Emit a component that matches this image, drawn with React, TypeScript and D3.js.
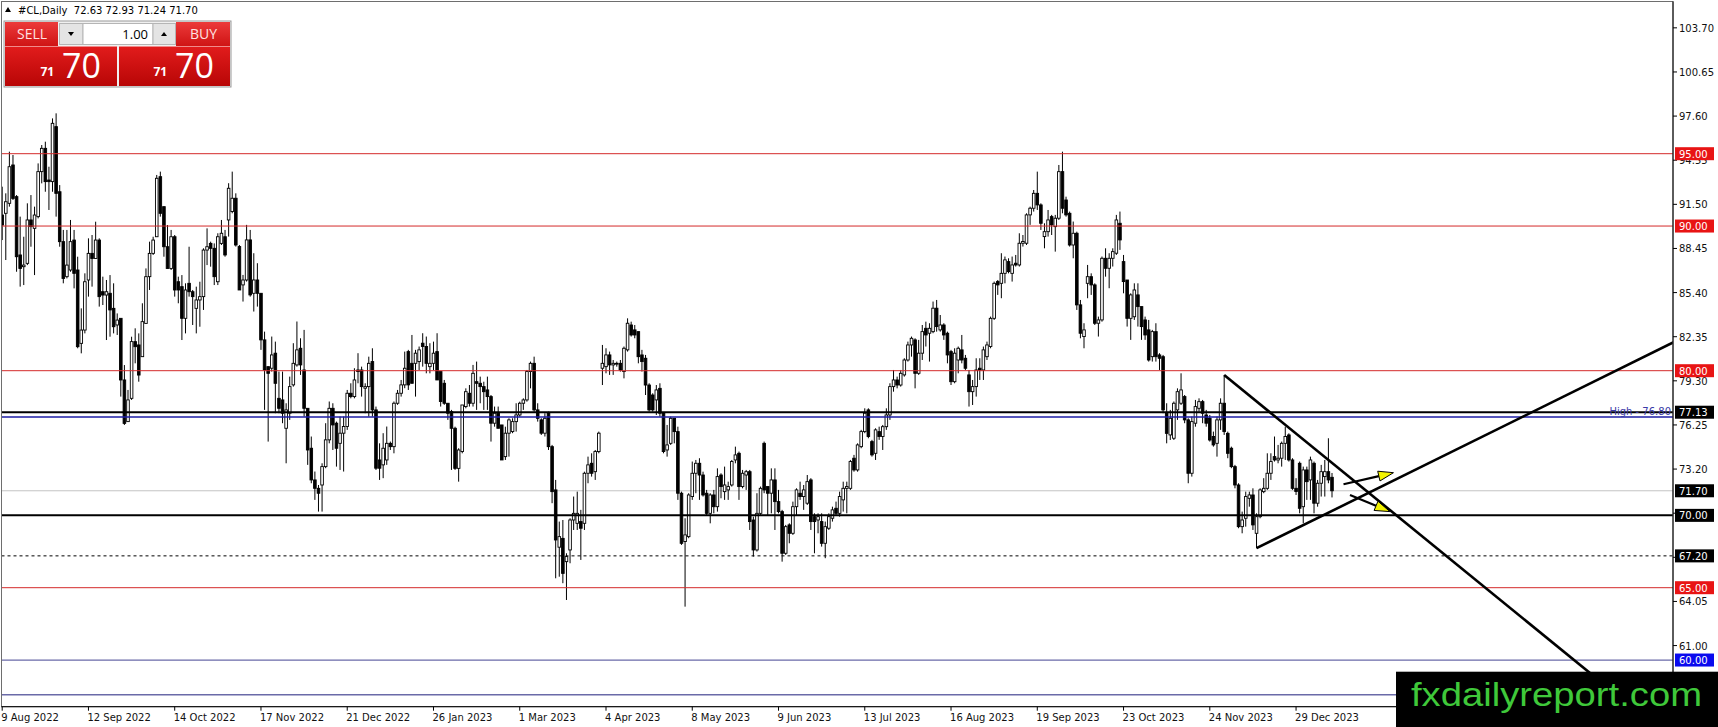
import React, { useEffect } from 'react';
import * as d3 from 'd3';

const W = 1718;
const H = 727;

// daily bars as [open, high, low, close]
const barsAugOct2022: number[][] = [
  [90.76, 92.72, 89.03, 90.07], [90.88, 92.26, 87.65, 91.68], [91.57, 95.14, 91.34, 94.10], [94.22, 94.91, 91.80, 91.91],
  [92.03, 92.14, 86.84, 87.88], [88.00, 90.65, 85.81, 87.07], [87.19, 89.26, 85.92, 87.30], [87.42, 91.57, 87.30, 90.42],
  [90.42, 92.14, 88.57, 89.96], [89.84, 91.34, 86.61, 90.76], [90.65, 94.33, 90.53, 93.76], [93.76, 95.60, 92.95, 95.37],
  [95.37, 95.83, 92.37, 93.07], [93.18, 94.10, 91.11, 93.07], [93.07, 97.44, 92.37, 97.10], [96.87, 97.79, 90.65, 92.26],
  [92.37, 92.83, 88.57, 88.92], [88.92, 89.73, 86.04, 86.38], [86.50, 89.73, 86.38, 87.30], [86.96, 90.42, 86.84, 88.92],
  [89.03, 89.73, 85.69, 86.73], [86.96, 87.88, 81.55, 81.66], [81.89, 84.31, 81.20, 82.81], [82.81, 86.73, 82.58, 86.15],
  [86.27, 89.15, 85.12, 88.11], [88.11, 89.38, 85.81, 87.76], [87.76, 90.30, 87.76, 89.03], [89.03, 89.15, 84.43, 85.12],
  [85.46, 86.50, 84.54, 85.23], [85.23, 86.27, 82.12, 85.46], [85.35, 86.61, 82.35, 84.20], [84.31, 86.04, 82.58, 83.04],
  [83.16, 83.96, 82.47, 83.50], [83.62, 83.62, 78.21, 79.36], [79.36, 80.39, 76.25, 76.36], [76.48, 78.67, 76.48, 77.98],
  [78.09, 82.35, 77.98, 82.01], [82.01, 82.93, 80.51, 81.66], [81.78, 82.58, 79.24, 79.70], [80.97, 84.66, 80.97, 83.39],
  [83.27, 87.07, 83.27, 86.50], [86.50, 88.92, 85.58, 88.11], [88.11, 89.26, 88.00, 89.03], [89.26, 93.53, 89.26, 93.30],
  [93.41, 93.76, 90.65, 90.88], [91.34, 91.34, 87.88, 88.57], [88.57, 90.07, 87.07, 87.07], [87.07, 89.73, 86.96, 89.26],
  [89.26, 89.38, 85.12, 85.58], [86.15, 86.50, 84.66, 85.58], [85.81, 86.61, 82.12, 83.62], [83.62, 86.04, 82.58, 85.58],
  [86.04, 88.57, 85.12, 85.46], [85.46, 85.58, 83.16, 85.12], [84.31, 85.81, 82.58, 84.89], [84.89, 86.15, 83.04, 85.12],
  [85.12, 88.46, 84.20, 88.34], [88.34, 89.84, 87.30, 88.57], [88.80, 88.92, 87.19, 88.46], [88.46, 88.80, 85.92, 86.50],
  [86.15, 89.50, 85.92, 89.26], [88.80, 90.42, 88.69, 89.50], [89.26, 89.73, 87.88, 88.00],
];

const barsNov2022Jan2023: number[][] = [
  [90.42, 92.96, 89.27, 92.61], [91.00, 93.76, 90.88, 91.92], [91.92, 92.26, 88.58, 88.69], [88.58, 88.69, 85.58, 85.58],
  [85.93, 86.62, 84.78, 86.27], [86.27, 90.08, 86.16, 89.04], [89.04, 89.73, 85.12, 85.24], [85.35, 88.12, 84.09, 86.27],
  [86.27, 87.43, 84.43, 85.35], [85.35, 85.35, 81.44, 82.13], [82.13, 82.70, 77.29, 80.05], [80.28, 80.28, 75.10, 79.82],
  [80.17, 82.36, 79.94, 81.09], [81.21, 82.01, 77.06, 79.13], [78.09, 79.94, 77.06, 77.40], [77.98, 79.94, 76.37, 77.06],
  [76.02, 77.75, 73.60, 77.29], [77.06, 79.59, 76.60, 78.90], [79.02, 81.90, 78.90, 80.51], [80.40, 83.40, 80.28, 81.44],
  [81.55, 82.24, 79.71, 80.40], [80.05, 82.82, 76.83, 77.40], [77.40, 77.40, 73.49, 74.52], [74.64, 75.45, 72.22, 72.45],
  [72.45, 73.03, 71.07, 71.87], [71.87, 72.10, 70.26, 71.53], [72.10, 73.60, 70.26, 73.37], [73.37, 76.37, 73.26, 75.22],
  [75.22, 77.87, 74.98, 77.40], [77.40, 77.75, 74.52, 76.25], [76.37, 76.48, 73.37, 74.64], [74.98, 76.83, 73.14, 75.68],
  [75.68, 76.83, 73.03, 76.14], [76.14, 78.67, 75.91, 78.44], [78.44, 79.13, 78.09, 78.21], [78.21, 80.17, 78.09, 79.36],
  [80.05, 81.21, 79.13, 79.94], [80.05, 80.28, 78.21, 78.90], [78.79, 79.13, 77.06, 78.90], [78.90, 80.97, 76.83, 80.51],
  [80.63, 81.55, 76.83, 77.29], [77.29, 77.52, 73.14, 73.26], [73.83, 74.98, 72.45, 73.26], [73.49, 75.68, 72.57, 74.64],
  [73.83, 76.14, 73.49, 74.98], [74.98, 75.10, 74.52, 74.75], [74.75, 77.87, 74.29, 77.75], [77.75, 78.67, 77.64, 78.44],
  [78.44, 79.36, 78.21, 79.02], [79.02, 81.32, 78.79, 80.17], [81.32, 81.44, 78.67, 79.02], [80.51, 82.47, 79.13, 79.13],
  [80.51, 81.44, 78.21, 81.21], [80.63, 81.67, 80.05, 81.44], [81.90, 82.59, 80.28, 81.67], [81.67, 82.36, 79.82, 80.51],
  [80.28, 81.90, 79.82, 80.51], [80.51, 82.01, 80.05, 81.21], [81.32, 82.59, 79.36, 79.36], [79.94, 79.94, 77.52, 77.87],
  [79.13, 79.36, 77.64, 77.75], [77.75, 77.75, 76.60, 77.06], [77.17, 77.29, 73.14, 76.02],
];

const barsFebApr2023: number[][] = [
  [76.02, 76.13, 73.14, 73.25], [73.25, 74.64, 72.33, 74.52], [74.41, 77.63, 74.29, 77.63], [77.52, 78.78, 77.40, 78.55],
  [78.44, 79.01, 77.52, 77.75], [77.75, 80.40, 77.52, 79.82], [79.24, 80.63, 77.29, 79.13], [79.13, 79.59, 77.75, 78.90],
  [78.90, 79.24, 77.29, 78.55], [78.67, 79.59, 77.29, 78.21], [78.21, 78.32, 75.10, 76.37], [76.37, 77.52, 76.13, 77.06],
  [77.06, 77.52, 76.02, 76.02], [76.25, 76.25, 73.83, 73.83], [74.06, 76.13, 73.83, 75.68], [75.68, 76.71, 74.06, 76.60],
  [75.79, 76.71, 75.68, 76.48], [76.48, 77.75, 75.79, 76.94], [76.94, 77.86, 76.83, 77.75], [77.75, 78.09, 77.29, 77.98],
  [77.98, 80.05, 77.86, 79.94], [79.94, 80.63, 78.78, 80.51], [80.51, 80.97, 77.17, 77.29], [77.29, 77.75, 76.48, 76.71],
  [76.60, 76.71, 75.56, 75.68], [75.68, 77.06, 75.45, 76.71], [77.06, 77.17, 74.52, 74.75], [74.75, 74.87, 70.84, 71.64],
  [71.76, 72.45, 65.65, 68.30], [67.80, 69.57, 65.76, 68.53], [68.41, 69.68, 65.31, 65.99], [66.80, 67.38, 64.15, 67.15],
  [67.61, 69.80, 66.69, 69.68], [69.68, 71.30, 68.99, 70.14], [69.45, 71.64, 68.99, 70.14], [69.57, 70.38, 66.92, 69.11],
  [69.45, 73.02, 68.99, 72.91], [72.91, 74.06, 72.22, 73.49], [73.60, 74.29, 72.68, 72.91], [73.02, 74.52, 72.45, 74.41],
  [74.41, 75.79, 74.29, 75.68], [80.17, 81.78, 79.01, 80.51], [80.28, 81.55, 79.82, 81.09], [81.09, 81.32, 79.71, 80.40],
  [80.40, 80.74, 79.71, 80.51], [80.45, 80.63, 80.28, 80.51], [80.51, 80.74, 79.94, 80.05], [79.94, 81.67, 79.47, 81.55],
  [81.44, 83.62, 81.32, 83.28], [83.16, 83.39, 82.36, 82.47], [82.82, 83.16, 82.24, 82.47], [82.70, 82.70, 80.51, 80.97],
  [81.09, 81.44, 79.94, 80.63], [80.86, 81.09, 78.32, 79.01], [79.01, 79.13, 77.17, 77.29], [78.32, 78.44, 77.17, 77.29],
  [77.98, 79.01, 76.94, 78.67], [78.78, 79.13, 76.83, 77.06], [77.06, 77.06, 74.29, 74.41], [74.52, 76.25, 74.06, 74.87],
  [74.98, 76.83, 74.87, 76.71], [76.71, 76.71, 74.98, 75.79],
];

const barsMayJul2023: number[][] = [
  [75.79, 76.13, 71.07, 71.53], [71.53, 71.64, 67.96, 68.07], [68.19, 69.80, 63.69, 68.65], [68.53, 71.53, 68.42, 71.41],
  [71.30, 73.72, 71.07, 72.91], [72.91, 73.83, 71.53, 73.60], [73.60, 73.95, 71.07, 72.79], [72.79, 73.02, 71.30, 71.41],
  [71.53, 71.76, 70.03, 70.14], [70.14, 71.53, 69.45, 71.41], [71.41, 71.76, 70.14, 70.60], [70.60, 73.25, 70.26, 72.68],
  [72.79, 72.91, 71.18, 71.99], [71.64, 73.37, 71.07, 72.10], [71.76, 72.33, 71.07, 71.99], [72.10, 73.83, 71.99, 73.72],
  [73.83, 74.75, 73.60, 74.18], [74.29, 74.41, 71.07, 71.99], [71.99, 73.14, 71.87, 72.91], [72.79, 73.14, 71.76, 73.02],
  [73.02, 73.14, 68.99, 69.57], [69.68, 69.91, 67.15, 67.61], [67.61, 71.53, 67.50, 70.14], [70.14, 71.99, 70.03, 71.87],
  [74.98, 75.10, 71.53, 71.76], [71.99, 71.99, 70.03, 71.53], [71.53, 73.25, 70.14, 72.45], [72.45, 73.25, 68.99, 70.95],
  [70.95, 71.76, 70.14, 70.26], [70.26, 70.38, 66.80, 67.38], [67.38, 69.34, 67.27, 69.22], [69.34, 69.45, 68.07, 68.76],
  [68.76, 70.95, 68.65, 70.60], [70.60, 71.87, 70.03, 71.76], [71.53, 72.33, 71.07, 71.30], [71.30, 72.10, 70.38, 71.76],
  [70.84, 72.79, 70.72, 72.33], [72.45, 72.57, 68.99, 69.57], [69.91, 70.14, 67.38, 69.57], [69.68, 70.14, 68.76, 69.91],
  [69.57, 70.14, 67.84, 68.07], [68.07, 69.57, 67.04, 69.22], [69.11, 70.14, 68.99, 69.91], [69.80, 70.60, 69.57, 70.38],
  [70.49, 70.95, 70.03, 70.14], [70.14, 71.64, 69.91, 71.30], [71.07, 72.33, 70.26, 71.87], [71.87, 72.33, 70.14, 71.99],
  [71.87, 73.83, 71.76, 73.72], [73.95, 74.18, 73.02, 73.14], [73.14, 74.98, 73.02, 74.87], [74.75, 75.91, 74.64, 75.79],
  [75.79, 77.40, 75.68, 77.06], [77.29, 77.40, 75.33, 75.45], [75.10, 75.22, 74.06, 74.18], [74.29, 76.02, 73.83, 75.91],
  [75.79, 76.13, 75.22, 75.45], [75.45, 76.25, 74.52, 76.13], [76.13, 77.40, 75.91, 76.94], [76.94, 79.13, 76.60, 78.90],
  [78.90, 80.05, 78.55, 79.36], [79.36, 79.59, 78.78, 79.01], [79.01, 80.05, 78.90, 79.82], [79.71, 80.86, 79.59, 80.74],
  [80.74, 82.01, 80.63, 81.78],
];

const barsAugOct2023: number[][] = [
  [81.78, 82.36, 80.97, 82.24], [82.13, 82.24, 78.78, 79.82], [79.82, 82.13, 79.71, 81.21], [81.21, 83.16, 80.74, 82.70],
  [82.93, 83.39, 81.67, 82.47], [82.59, 83.28, 80.63, 82.93], [82.70, 84.78, 82.59, 84.32], [84.32, 84.89, 82.70, 83.05],
  [82.82, 83.85, 82.70, 83.16], [83.16, 83.28, 82.13, 82.47], [82.59, 82.70, 80.51, 81.09], [81.32, 81.44, 79.01, 79.24],
  [79.24, 81.55, 79.13, 81.21], [80.74, 81.67, 79.82, 81.55], [81.44, 82.47, 80.51, 80.74], [80.86, 81.09, 80.05, 80.17],
  [79.71, 80.05, 77.52, 78.55], [78.55, 79.36, 77.63, 78.90], [78.90, 80.86, 78.21, 80.05], [80.17, 80.86, 79.36, 80.05],
  [80.05, 81.67, 79.36, 81.44], [80.97, 82.01, 80.74, 81.78], [81.67, 83.74, 81.55, 83.62], [83.62, 86.16, 83.51, 86.04],
  [86.16, 86.27, 85.24, 85.93], [86.04, 88.12, 85.01, 86.73], [86.73, 87.89, 86.04, 87.66], [87.54, 87.77, 86.73, 86.85],
  [86.73, 87.89, 86.16, 87.31], [87.43, 88.00, 87.20, 87.31], [87.31, 89.50, 87.20, 88.81], [88.81, 89.38, 88.58, 88.93],
  [88.81, 90.88, 88.69, 90.77], [90.77, 91.34, 90.08, 91.23], [91.23, 92.49, 91.00, 92.26], [92.26, 93.76, 91.11, 91.46],
  [91.46, 91.57, 89.73, 90.19], [89.27, 90.19, 88.46, 89.61], [89.61, 91.11, 89.27, 90.42], [90.65, 90.77, 89.38, 90.08],
  [89.96, 90.77, 88.23, 90.54], [90.54, 94.22, 90.42, 93.76], [93.76, 95.14, 90.88, 91.23], [91.80, 92.03, 90.65, 90.77],
  [90.88, 91.00, 88.58, 88.69], [88.69, 90.31, 87.77, 89.50], [89.50, 89.61, 84.20, 84.55], [84.55, 84.89, 82.24, 82.59],
  [82.36, 83.28, 81.55, 82.82], [86.04, 87.31, 85.01, 86.50], [86.50, 86.73, 85.24, 85.93], [85.93, 86.04, 83.16, 83.28],
  [83.28, 83.74, 82.36, 83.51], [83.51, 87.89, 83.39, 87.77], [87.77, 88.46, 86.50, 87.08], [87.08, 88.12, 85.70, 87.77],
  [87.77, 88.46, 87.20, 88.23], [88.12, 90.77, 88.00, 90.42], [90.19, 91.00, 88.35, 89.04], [87.54, 88.00, 85.35, 86.16],
  [86.27, 86.27, 83.05, 83.62], [83.62, 85.35, 82.13, 85.24],
  [83.73, 86.04, 83.51, 85.58], [85.24, 86.04, 83.05, 84.43], [84.43, 84.43, 82.13, 83.05], [83.51, 83.74, 82.13, 82.47],
  [82.82, 83.51, 80.63, 80.74], [80.97, 82.82, 80.63, 82.70], [82.70, 83.28, 80.63, 80.97], [81.09, 81.21, 80.05, 80.86],
];

const barsNov2023Jan2024: number[][] = [
  [80.97, 81.09, 77.06, 77.29], [77.06, 77.75, 74.98, 75.67], [75.56, 77.29, 75.21, 76.71], [75.33, 77.87, 75.21, 77.75],
  [77.29, 78.78, 76.60, 78.55], [77.75, 79.82, 77.63, 78.67], [78.21, 78.32, 76.37, 76.60], [76.60, 76.71, 72.22, 72.91],
  [72.91, 76.83, 72.68, 76.48], [76.37, 77.98, 76.13, 77.52], [77.40, 78.09, 77.17, 77.86], [77.86, 77.98, 76.37, 77.06],
  [76.94, 77.29, 76.13, 76.37], [76.71, 76.94, 75.10, 75.21], [75.45, 75.79, 74.75, 74.87], [74.98, 76.83, 74.06, 76.60],
  [76.60, 78.09, 75.91, 77.75], [77.75, 79.70, 75.56, 75.79], [75.67, 75.79, 73.95, 74.29], [74.64, 74.75, 73.26, 73.37],
  [73.37, 73.49, 71.87, 72.10], [72.10, 72.22, 69.11, 69.22], [69.22, 70.26, 68.76, 69.68], [69.80, 71.64, 69.22, 71.30],
  [71.18, 71.64, 70.60, 71.41], [71.41, 71.87, 68.99, 69.34], [68.76, 70.14, 67.73, 69.91], [69.91, 71.87, 69.80, 71.76],
  [71.64, 72.57, 71.53, 71.87], [71.87, 74.29, 71.76, 72.91], [72.91, 74.29, 72.45, 73.72], [74.06, 75.45, 73.72, 73.83],
  [73.83, 74.87, 73.60, 73.95], [73.95, 75.10, 73.37, 74.98], [74.98, 76.13, 73.83, 75.45], [75.56, 75.67, 73.72, 73.83],
  [73.83, 73.95, 71.76, 71.87], [71.87, 72.57, 71.41, 71.65], [73.60, 73.72, 70.14, 70.49], [70.60, 73.37, 69.45, 73.14],
  [73.14, 73.37, 71.07, 72.33], [72.45, 74.06, 71.07, 73.83], [73.60, 73.72, 70.14, 70.84], [70.84, 72.45, 70.60, 72.22],
  [72.22, 73.49, 71.30, 73.02], [72.68, 73.83, 71.30, 73.02], [73.02, 75.33, 72.22, 72.45], [72.63, 72.93, 71.24, 71.70],
];

const candles = [
  ...barsAugOct2022, ...barsNov2022Jan2023, ...barsFebApr2023,
  ...barsMayJul2023, ...barsAugOct2023, ...barsNov2023Jan2024,
];

const dateLabels = [
  '9 Aug 2022', '12 Sep 2022', '14 Oct 2022', '17 Nov 2022', '21 Dec 2022', '26 Jan 2023',
  '1 Mar 2023', '4 Apr 2023', '8 May 2023', '9 Jun 2023', '13 Jul 2023', '16 Aug 2023',
  '19 Sep 2023', '23 Oct 2023', '24 Nov 2023', '29 Dec 2023',
];
const barsPerLabel = 24;

const priceTicks = [103.7, 100.65, 97.6, 94.55, 91.5, 88.45, 85.4, 82.35, 79.3, 76.25, 73.2, 70.15, 67.1, 64.05, 61.0, 57.95];

const redLevels = [95, 90, 80, 65];
const blackLevels = [77.13, 70.0];
const dashedLevel = 67.2;
const bidLevel = 71.7;
const highLevel = 76.8;
const blueLevels = [60.0, 57.6];

const redTags = [95, 90, 80, 65];
const blackTags = [77.13, 71.7, 70.0, 67.2];
const blueTags = [60.0];

// trendlines as [bar index, price]
const fallingLine = [[340, 79.7], [450, 57.44]];
const risingLine = [[349, 67.73], [460, 81.35]];
const upArrow = [[373.2, 72.15], [387.1, 72.95]];
const downArrow = [[375.0, 71.41], [386.1, 70.26]];

const header = '#CL,Daily  72.63 72.93 71.24 71.70';

const plotL = 1.5;
const plotT = 1.5;
const plotR = 1673;
const plotB = 706.7;

const x = d3.scaleLinear().domain([0, 370]).range([2.2, 1332]);
const y = d3.scaleLinear().domain([95, 65]).range([153.7, 587.7]);

const mtFont = '"DejaVu Sans", sans-serif';

function extend(pts: number[][], i0: number, i1: number) {
  const [a, b] = pts;
  const slope = (b[1] - a[1]) / (b[0] - a[0]);
  return [[i0, a[1] + slope * (i0 - a[0])], [i1, a[1] + slope * (i1 - a[0])]];
}

function Arrow({ pts }: { pts: number[][] }) {
  const x1 = x(pts[0][0]), y1 = y(pts[0][1]);
  const x2 = x(pts[1][0]), y2 = y(pts[1][1]);
  const ang = Math.atan2(y2 - y1, x2 - x1);
  const len = 15, half = 5;
  const bx = x2 - Math.cos(ang) * len, by = y2 - Math.sin(ang) * len;
  const nx = -Math.sin(ang) * half, ny = Math.cos(ang) * half;
  const head = `${x2},${y2} ${bx + nx},${by + ny} ${bx - nx},${by - ny}`;
  return (
    <g>
      <line x1={x1} y1={y1} x2={bx} y2={by} stroke="#000" strokeWidth={2.2} />
      <polygon points={head} fill="#f2f200" stroke="#000" strokeWidth={1} />
    </g>
  );
}

function Candles() {
  const bw = 2.6;
  return (
    <g>
      {candles.map((c, i) => {
        const [o, h, l, cl] = c;
        const cx = x(i);
        const up = cl >= o;
        const top = y(Math.max(o, cl));
        const bot = y(Math.min(o, cl));
        return (
          <g key={i}>
            <line x1={cx} x2={cx} y1={y(h)} y2={y(l)} stroke="#000" strokeWidth={1} />
            <rect x={cx - bw / 2} y={top} width={bw} height={Math.max(bot - top, 0.8)}
              fill={up ? '#fff' : '#000'} stroke="#000" strokeWidth={0.9} />
          </g>
        );
      })}
    </g>
  );
}

function Tag({ v, bg }: { v: number; bg: string }) {
  const yy = y(v);
  return (
    <g>
      <rect x={1675} y={yy - 6.5} width={39} height={13} fill={bg} />
      <text x={1679} y={yy + 4} fill="#fff" fontFamily={mtFont} fontSize={10}>{v.toFixed(2)}</text>
    </g>
  );
}

function TradePanel() {
  return (
    <g fontFamily='"Open Sans", sans-serif'>
      <defs>
        <linearGradient id="btnRed" x1="0" y1="0" x2="0" y2="1">
          <stop offset="0" stopColor="#ec3a3a" />
          <stop offset="1" stopColor="#cf1414" />
        </linearGradient>
        <linearGradient id="boxRed" x1="0" y1="0" x2="0" y2="1">
          <stop offset="0" stopColor="#e21c1c" />
          <stop offset="1" stopColor="#b80606" />
        </linearGradient>
      </defs>
      <rect x={4} y={21} width={227} height={66} fill="#f0f0f0" stroke="#9a9a9a" strokeWidth={1} />
      <rect x={5} y={22} width={53} height={24} fill="url(#btnRed)" />
      <text x={17} y={39} fontSize={14} fill="#ffe2e2">SELL</text>
      <rect x={59.5} y={23.5} width={23.5} height={21} fill="#e4e4e4" stroke="#b5b5b5" />
      <polygon points="68,32 74,32 71,36" fill="#000" />
      <rect x={83} y={23.5} width={70} height={21} fill="#fff" stroke="#b5b5b5" />
      <text x={148} y={39} fontSize={13} textAnchor="end" fill="#000">1.00</text>
      <rect x={153} y={23.5} width={22.5} height={21} fill="#e4e4e4" stroke="#b5b5b5" />
      <polygon points="161,36 167,36 164,32" fill="#000" />
      <rect x={176} y={22} width={54} height={24} fill="url(#btnRed)" />
      <text x={190} y={39} fontSize={14} fill="#ffe2e2">BUY</text>
      <rect x={5} y={46} width={112} height={40} fill="url(#boxRed)" />
      <rect x={119} y={46} width={111} height={40} fill="url(#boxRed)" />
      <line x1={5} x2={117} y1={46.5} y2={46.5} stroke="#f08a8a" />
      <line x1={119} x2={230} y1={46.5} y2={46.5} stroke="#f08a8a" />
      <text x={40.5} y={76} fontSize={12} fontWeight="bold" fill="#fff">71</text>
      <text x={62} y={77.5} fontSize={34} fill="#fff">70</text>
      <text x={153.5} y={76} fontSize={12} fontWeight="bold" fill="#fff">71</text>
      <text x={175} y={77.5} fontSize={34} fill="#fff">70</text>
    </g>
  );
}

export default function App() {
  useEffect(() => {
    document.body.style.margin = '0';
  }, []);

  const fall = extend(fallingLine, 340, 470);
  const rise = extend(risingLine, 349, 470);

  return (
    <svg width={W} height={H} viewBox={`0 0 ${W} ${H}`} style={{ display: 'block', background: '#fff' }}>
      <defs>
        <clipPath id="plot">
          <rect x={plotL} y={plotT} width={plotR - plotL} height={plotB - plotT} />
        </clipPath>
      </defs>

      <g clipPath="url(#plot)">
        <line x1={plotL} x2={plotR} y1={y(bidLevel)} y2={y(bidLevel)} stroke="#c4c4c4" strokeWidth={1} />
        <Candles />
        {redLevels.map((v) => (
          <line key={v} x1={plotL} x2={plotR} y1={y(v)} y2={y(v)} stroke="#d42a2a" strokeWidth={1} />
        ))}
        {blueLevels.map((v) => (
          <line key={v} x1={plotL} x2={plotR} y1={y(v)} y2={y(v)} stroke="#6a6aa8" strokeWidth={1.3} />
        ))}
        <line x1={plotL} x2={plotR} y1={y(dashedLevel)} y2={y(dashedLevel)} stroke="#000" strokeWidth={1} strokeDasharray="3,3" />
        <line x1={plotL} x2={plotR} y1={y(highLevel)} y2={y(highLevel)} stroke="#1c1ca6" strokeWidth={1.5} />
        {blackLevels.map((v) => (
          <line key={v} x1={plotL} x2={plotR} y1={y(v)} y2={y(v)} stroke="#000" strokeWidth={2} />
        ))}
        <text x={1671} y={y(highLevel) - 1.5} textAnchor="end" fill="#3a3aa8" fontFamily={mtFont} fontSize={10}>
          {`High - ${highLevel.toFixed(2)}`}
        </text>
        <line x1={x(fall[0][0])} y1={y(fall[0][1])} x2={x(fall[1][0])} y2={y(fall[1][1])} stroke="#000" strokeWidth={2.6} />
        <line x1={x(rise[0][0])} y1={y(rise[0][1])} x2={x(rise[1][0])} y2={y(rise[1][1])} stroke="#000" strokeWidth={2.6} />
        <Arrow pts={upArrow} />
        <Arrow pts={downArrow} />
      </g>

      {/* frame */}
      <rect x={plotL} y={plotT} width={plotR - plotL} height={plotB - plotT} fill="none" stroke="#6e6e6e" strokeWidth={1} />
      <line x1={plotR} x2={plotR} y1={plotT} y2={plotB} stroke="#000" strokeWidth={1} />
      <line x1={plotL} x2={plotR} y1={plotB} y2={plotB} stroke="#000" strokeWidth={1} />

      {/* price axis */}
      {priceTicks.map((v) => (
        <g key={v}>
          <line x1={plotR} x2={plotR + 4} y1={y(v)} y2={y(v)} stroke="#000" />
          <text x={1679} y={y(v) + 4} fill="#111" fontFamily={mtFont} fontSize={10}>{v.toFixed(2)}</text>
        </g>
      ))}
      {redTags.map((v) => <Tag key={v} v={v} bg="#e81414" />)}
      {blackTags.map((v) => <Tag key={v} v={v} bg="#000" />)}
      {blueTags.map((v) => <Tag key={v} v={v} bg="#0a0aee" />)}

      {/* date axis */}
      {dateLabels.map((t, i) => {
        const px = x(i * barsPerLabel);
        return (
          <g key={t}>
            <line x1={px} x2={px} y1={plotB} y2={plotB + 4} stroke="#000" />
            <text x={px - 1} y={721} fill="#111" fontFamily={mtFont} fontSize={10}>{t}</text>
          </g>
        );
      })}

      {/* header and trading panel */}
      <polygon points="5,12 11,12 8,7" fill="#000" />
      <text x={18} y={14} fill="#000" fontFamily={mtFont} fontSize={10} style={{ whiteSpace: 'pre' }}>{header}</text>
      <TradePanel />

      {/* watermark */}
      <rect x={1396} y={671.7} width={W - 1396} height={H - 671.7} fill="#000" />
      <text x={1411} y={706} fill="#3fc83a" fontFamily='"Liberation Sans", Arial, sans-serif' fontSize={34}
        textLength={291} lengthAdjust="spacingAndGlyphs">fxdailyreport.com</text>
    </svg>
  );
}
